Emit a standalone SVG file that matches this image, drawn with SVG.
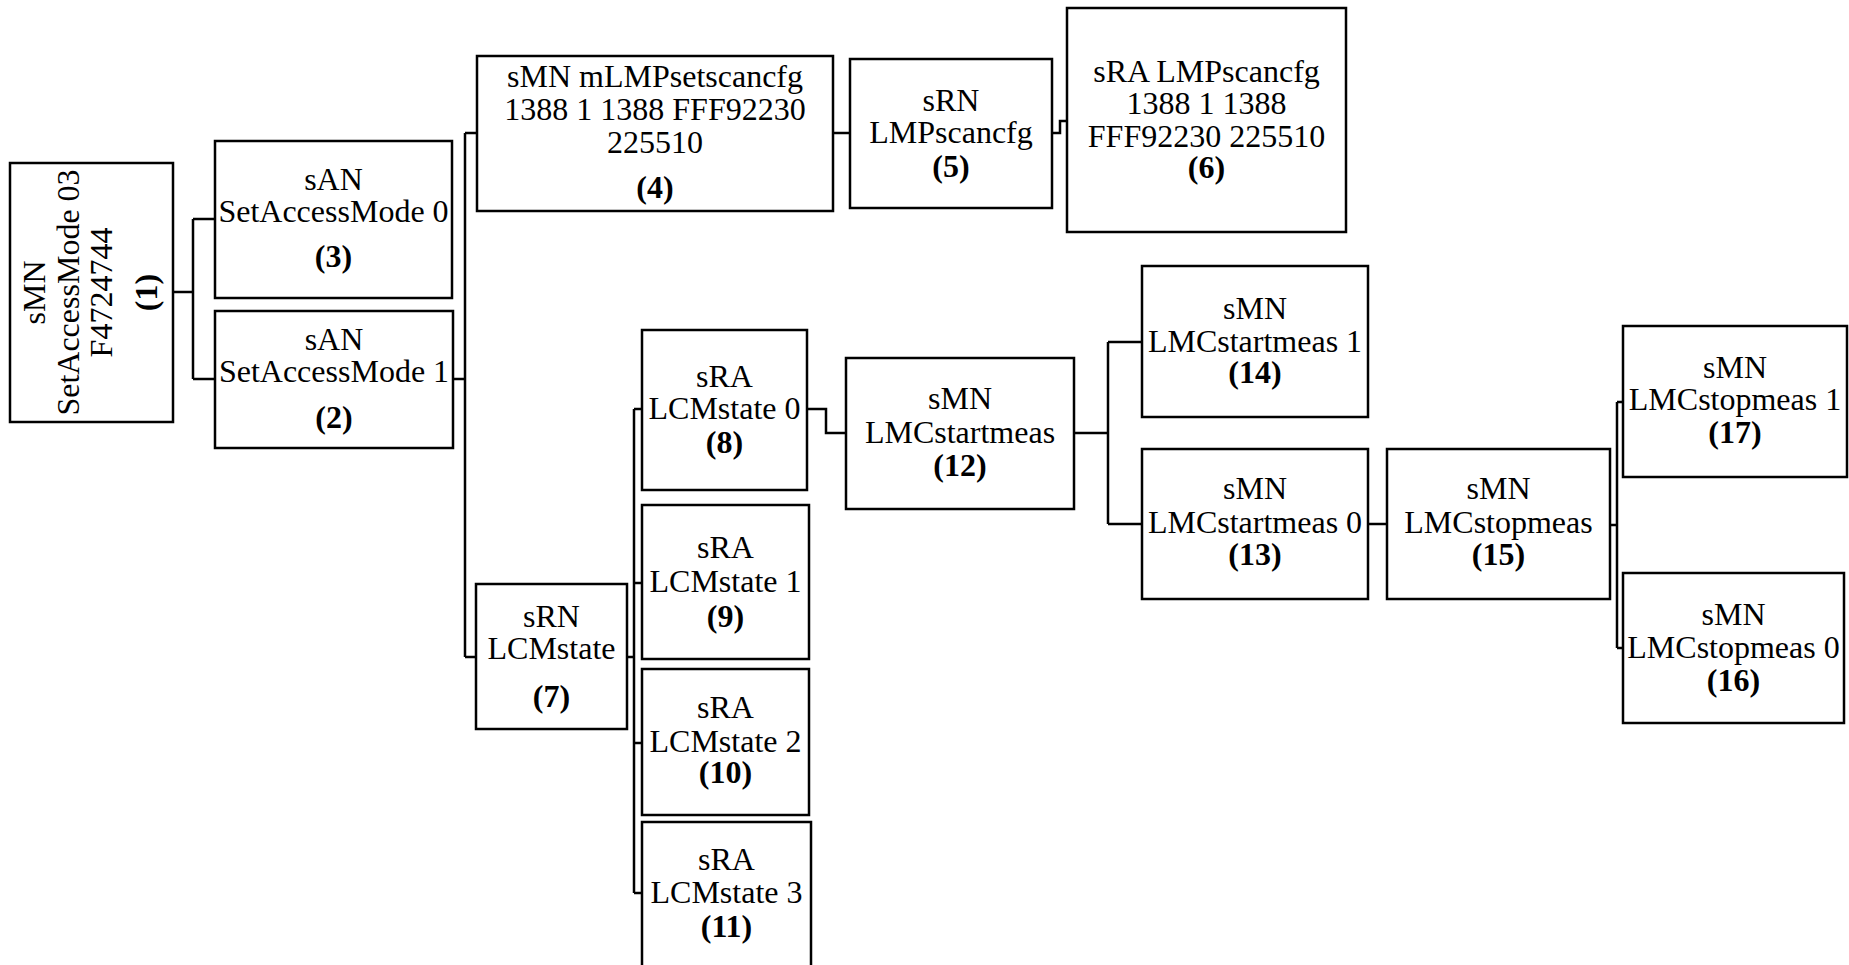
<svg xmlns="http://www.w3.org/2000/svg" width="1849" height="965" viewBox="0 0 1849 965">
<style>
.box{fill:#fff;stroke:#000;stroke-width:2.5}
.con{fill:none;stroke:#000;stroke-width:2.5}
text{font-family:"Liberation Serif","Times New Roman",serif;font-size:32px;fill:#000;text-anchor:middle}
.b{font-weight:bold}
</style>
<rect width="1849" height="965" fill="#fff"/>
<g id="connectors">
<path class="con" d="M173,292 H193 M193,219 V379 M193,219 H215 M193,379 H215"/>
<path class="con" d="M453,379 H465 M465,133 V657 M465,133 H477 M465,657 H476"/>
<path class="con" d="M833,133 H850"/>
<path class="con" d="M1052,133 H1060 V121 H1067"/>
<path class="con" d="M627,657 H634 M634,409 V893 M634,409 H642 M634,583 H642 M634,743 H642 M634,893 H642"/>
<path class="con" d="M807,409 H826 V433 H846"/>
<path class="con" d="M1074,433 H1108 M1108,342 V524 M1108,342 H1142 M1108,524 H1142"/>
<path class="con" d="M1368,524 H1387"/>
<path class="con" d="M1610,525 H1617 M1617,402 V648 M1617,402 H1623 M1617,648 H1623"/>
</g>
<g id="node1">
<rect class="box" x="10" y="163" width="163" height="259"/>
<g transform="rotate(-90)">
<text x="-292.5" y="45">sMN</text>
<text x="-292.5" y="79">SetAccessMode 03</text>
<text x="-292.5" y="112">F4724744</text>
<text class="b" x="-292.5" y="157">(1)</text>
</g>
</g>
<g id="node3">
<rect class="box" x="215" y="141" width="237" height="157"/>
<text x="333.5" y="190">sAN</text>
<text x="333.5" y="222">SetAccessMode 0</text>
<text class="b" x="333.5" y="267">(3)</text>
</g>
<g id="node2">
<rect class="box" x="215" y="311" width="238" height="137"/>
<text x="334" y="350">sAN</text>
<text x="334" y="382">SetAccessMode 1</text>
<text class="b" x="334" y="428">(2)</text>
</g>
<g id="node4">
<rect class="box" x="477" y="56" width="356" height="155"/>
<text x="655" y="87">sMN mLMPsetscancfg</text>
<text x="655" y="120">1388 1 1388 FFF92230</text>
<text x="655" y="153">225510</text>
<text class="b" x="655" y="198">(4)</text>
</g>
<g id="node5">
<rect class="box" x="850" y="59" width="202" height="149"/>
<text x="951" y="111">sRN</text>
<text x="951" y="143">LMPscancfg</text>
<text class="b" x="951" y="177">(5)</text>
</g>
<g id="node6">
<rect class="box" x="1067" y="8" width="279" height="224"/>
<text x="1206.5" y="82">sRA LMPscancfg</text>
<text x="1206.5" y="114">1388 1 1388</text>
<text x="1206.5" y="147">FFF92230 225510</text>
<text class="b" x="1206.5" y="178">(6)</text>
</g>
<g id="node7">
<rect class="box" x="476" y="584" width="151" height="145"/>
<text x="551.5" y="627">sRN</text>
<text x="551.5" y="659">LCMstate</text>
<text class="b" x="551.5" y="707">(7)</text>
</g>
<g id="node8">
<rect class="box" x="642" y="330" width="165" height="160"/>
<text x="724.5" y="387">sRA</text>
<text x="724.5" y="419">LCMstate 0</text>
<text class="b" x="724.5" y="453">(8)</text>
</g>
<g id="node9">
<rect class="box" x="642" y="505" width="167" height="154"/>
<text x="725.5" y="558">sRA</text>
<text x="725.5" y="592">LCMstate 1</text>
<text class="b" x="725.5" y="627">(9)</text>
</g>
<g id="node10">
<rect class="box" x="642" y="669" width="167" height="146"/>
<text x="725.5" y="718">sRA</text>
<text x="725.5" y="752">LCMstate 2</text>
<text class="b" x="725.5" y="783">(10)</text>
</g>
<g id="node11">
<rect class="box" x="642" y="822" width="169" height="160"/>
<text x="726.5" y="870">sRA</text>
<text x="726.5" y="903">LCMstate 3</text>
<text class="b" x="726.5" y="937">(11)</text>
</g>
<g id="node12">
<rect class="box" x="846" y="358" width="228" height="151"/>
<text x="960" y="409">sMN</text>
<text x="960" y="443">LMCstartmeas</text>
<text class="b" x="960" y="476">(12)</text>
</g>
<g id="node14">
<rect class="box" x="1142" y="266" width="226" height="151"/>
<text x="1255" y="319">sMN</text>
<text x="1255" y="352">LMCstartmeas 1</text>
<text class="b" x="1255" y="383">(14)</text>
</g>
<g id="node13">
<rect class="box" x="1142" y="449" width="226" height="150"/>
<text x="1255" y="499">sMN</text>
<text x="1255" y="533">LMCstartmeas 0</text>
<text class="b" x="1255" y="565">(13)</text>
</g>
<g id="node15">
<rect class="box" x="1387" y="449" width="223" height="150"/>
<text x="1498.5" y="499">sMN</text>
<text x="1498.5" y="533">LMCstopmeas</text>
<text class="b" x="1498.5" y="565">(15)</text>
</g>
<g id="node17">
<rect class="box" x="1623" y="326" width="224" height="151"/>
<text x="1735" y="378">sMN</text>
<text x="1735" y="410">LMCstopmeas 1</text>
<text class="b" x="1735" y="443">(17)</text>
</g>
<g id="node16">
<rect class="box" x="1623" y="573" width="221" height="150"/>
<text x="1733.5" y="625">sMN</text>
<text x="1733.5" y="658">LMCstopmeas 0</text>
<text class="b" x="1733.5" y="691">(16)</text>
</g>
</svg>
